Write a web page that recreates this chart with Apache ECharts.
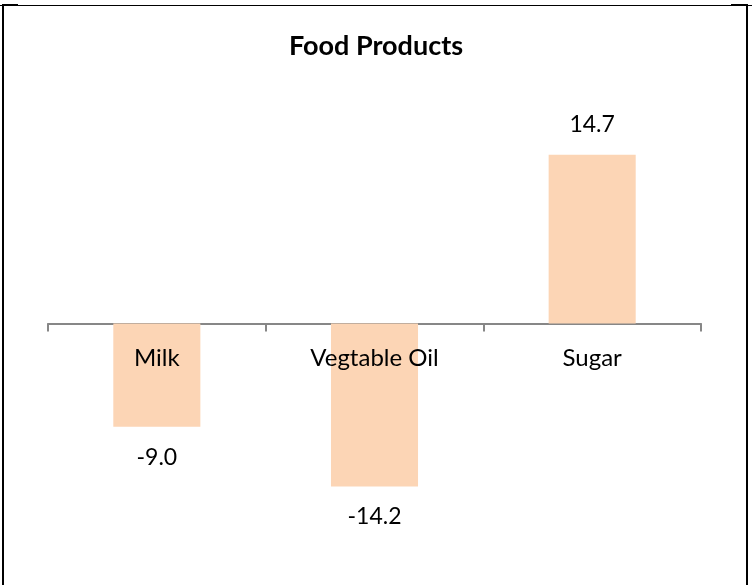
<!DOCTYPE html>
<html>
<head>
<meta charset="utf-8">
<script src="https://cdn.jsdelivr.net/npm/echarts@6/dist/echarts.min.js"></script>
<style>html,body{margin:0;padding:0;background:#fff}#c{width:752px;height:585px}</style>
</head>
<body>
<div id="c"></div>
<script>
const titleText = "Food Products";
const categories = ["Milk", "Vegtable Oil", "Sugar"];
const values = [-9.0, -14.2, 14.7];

const chart = echarts.init(document.getElementById('c'), null, {renderer: 'canvas'});
const FONT = 'Lato';
chart.setOption({
  animation: false,
  backgroundColor: '#ffffff',
  title: {
    text: titleText,
    left: 'center',
    top: 28,
    textStyle: {fontFamily: FONT, fontWeight: 'bold', fontSize: 27, color: '#000'}
  },
  grid: {left: 48, right: 51, top: 94, bottom: 32, containLabel: false, outerBoundsMode: 'none'},
  xAxis: {
    type: 'category',
    data: categories,
    axisLine: {onZero: true, lineStyle: {color: '#878787', width: 2}},
    axisTick: {show: true, length: 8, inside: false, lineStyle: {color: '#878787', width: 2}},
    axisLabel: {show: false}
  },
  yAxis: {
    type: 'value',
    min: -20, max: 20, interval: 5,
    show: false,
    splitLine: {show: false}
  },
  series: [{
    type: 'bar',
    data: values,
    barWidth: '40%',
    itemStyle: {color: '#FCD5B5'},
    label: {
      show: true,
      position: 'outside',
      fontFamily: FONT, fontSize: 23, color: '#000',
      distance: 19,
      formatter: p => p.value.toFixed(1)
    },
    z: 1
  }, {
    type: 'scatter',
    data: categories.map(c => [c, 0]),
    symbolSize: 0,
    silent: true,
    itemStyle: {opacity: 1},
    label: {
      show: true,
      position: 'bottom',
      distance: 23,
      opacity: 1,
      fontFamily: FONT, fontSize: 24, color: '#000',
      formatter: p => p.value[0]
    },
    z: 5
  }],
  graphic: [
    {type: 'line', shape: {x1: 0, y1: 5.5, x2: 752, y2: 5.5}, style: {stroke: '#000', lineWidth: 1}, z: 100},
    {type: 'line', shape: {x1: 2, y1: 5, x2: 18, y2: 5}, style: {stroke: '#000', lineWidth: 2}, z: 100},
    {type: 'line', shape: {x1: 731, y1: 5, x2: 748, y2: 5}, style: {stroke: '#000', lineWidth: 2}, z: 100},
    {type: 'line', shape: {x1: 3, y1: 5, x2: 3, y2: 585}, style: {stroke: '#000', lineWidth: 2}, z: 100},
    {type: 'line', shape: {x1: 747, y1: 5, x2: 747, y2: 585}, style: {stroke: '#000', lineWidth: 2}, z: 100}
  ]
});
</script>
</body>
</html>
